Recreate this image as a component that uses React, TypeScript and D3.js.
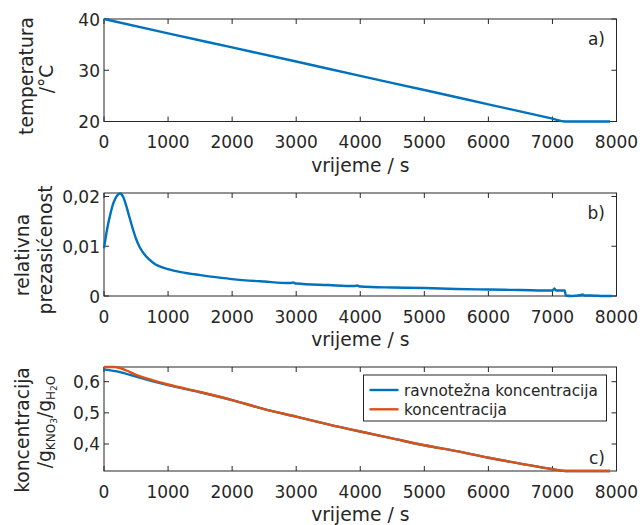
import React, { useEffect, useRef } from 'react';
import * as d3 from 'd3';

// panel a: temperature
const tempTime = [0, 1000, 2000, 3000, 4000, 5000, 6000, 7000, 7200, 7500, 7900];
const tempValue = [40, 37.2, 34.45, 31.7, 28.9, 26.15, 23.35, 20.55, 20, 20, 20];

// panel b: relative supersaturation
const satTime = [0, 50, 100, 150, 200, 250, 300, 350, 400, 450, 500, 550, 600, 700, 800, 900, 1000, 1200, 1500, 1800, 2000, 2500, 2900, 2950, 3000, 3500, 3900, 3950, 4000, 4500, 5000, 5500, 6000, 6500, 7000, 7030, 7060, 7190, 7210, 7300, 7450, 7470, 7500, 7600, 7800, 7930];
const satValue = [0.0096, 0.0135, 0.0165, 0.0188, 0.0201, 0.0206, 0.0199, 0.018, 0.0157, 0.0135, 0.0115, 0.01, 0.0089, 0.0074, 0.0064, 0.0058, 0.0054, 0.0048, 0.0042, 0.0037, 0.0034, 0.0029, 0.0026, 0.0027, 0.0025, 0.0022, 0.002, 0.0021, 0.0019, 0.0017, 0.0016, 0.0014, 0.0013, 0.0012, 0.0011, 0.0015, 0.0011, 0.0011, 0.0001, 0.0, 0.0002, 0.0003, 0.0001, 0.0001, 0.0, 0.0];

// panel c: concentrations
const eqTime = [0, 250, 500, 750, 1000, 1500, 2000, 2500, 3000, 3500, 4000, 4500, 5000, 5500, 6000, 6500, 7000, 7200, 7900];
const eqValue = [0.6396, 0.631, 0.616, 0.602, 0.589, 0.566, 0.541, 0.512, 0.488, 0.463, 0.44, 0.418, 0.396, 0.377, 0.356, 0.337, 0.319, 0.3135, 0.3135];
const concTime = [0, 150, 250, 350, 500, 750, 1000, 1500, 2000, 2500, 3000, 3500, 4000, 4500, 5000, 5500, 6000, 6500, 7000, 7200, 7900];
const concValue = [0.647, 0.647, 0.644, 0.636, 0.622, 0.605, 0.591, 0.567, 0.541, 0.512, 0.488, 0.463, 0.44, 0.418, 0.396, 0.377, 0.356, 0.337, 0.319, 0.3135, 0.3135];

const xTicks = [0, 1000, 2000, 3000, 4000, 5000, 6000, 7000, 8000];
const tempTicks = [20, 30, 40];
const satTicks = [0, 0.01, 0.02];
const concTicks = [0.4, 0.5, 0.6];
const legendLabels = ['ravnotežna koncentracija', 'koncentracija'];

const BLUE = '#0072BD';
const ORANGE = '#D95319';
const INK = '#262626';
const FONT = "'DejaVu Sans', sans-serif";

const App = () => {
  const svgRef = useRef<SVGSVGElement>(null);

  useEffect(() => {
    const svg = d3.select(svgRef.current);
    svg.selectAll('*').remove();

    const left = 104;
    const right = 616.5;
    const x = d3.scaleLinear().domain([0, 8000]).range([left, right]);
    const fmt = (v: number) => String(v).replace('.', ',');

    // Draw one axes box with inward ticks on all sides
    const drawPanel = (top: number, bottom: number, domain: [number, number], yTicks: number[], tag: string, tagY: number) => {
      const y = d3.scaleLinear().domain(domain).range([bottom, top]);
      const g = svg.append('g');

      g.append('rect')
        .attr('x', left).attr('y', top)
        .attr('width', right - left).attr('height', bottom - top)
        .attr('fill', 'none').attr('stroke', INK).attr('stroke-width', 1);

      xTicks.forEach(t => {
        g.append('line').attr('x1', x(t)).attr('x2', x(t)).attr('y1', bottom).attr('y2', bottom - 5).attr('stroke', INK);
        g.append('line').attr('x1', x(t)).attr('x2', x(t)).attr('y1', top).attr('y2', top + 5).attr('stroke', INK);
        g.append('text')
          .attr('x', x(t)).attr('y', bottom + 26.5)
          .attr('text-anchor', 'middle')
          .style('font-family', FONT).style('font-size', '17px').style('fill', INK)
          .text(t);
      });

      yTicks.forEach(v => {
        g.append('line').attr('x1', left).attr('x2', left + 5).attr('y1', y(v)).attr('y2', y(v)).attr('stroke', INK);
        g.append('line').attr('x1', right).attr('x2', right - 5).attr('y1', y(v)).attr('y2', y(v)).attr('stroke', INK);
        g.append('text')
          .attr('x', left - 4).attr('y', y(v) + 6.5)
          .attr('text-anchor', 'end')
          .style('font-family', FONT).style('font-size', '17px').style('fill', INK)
          .text(fmt(v));
      });

      g.append('text')
        .attr('x', (left + right) / 2).attr('y', bottom + 50)
        .attr('text-anchor', 'middle')
        .style('font-family', FONT).style('font-size', '18.7px').style('fill', INK)
        .text('vrijeme / s');

      g.append('text')
        .attr('x', 605).attr('y', tagY)
        .attr('text-anchor', 'end')
        .style('font-family', FONT).style('font-size', '17px').style('fill', INK)
        .text(tag);

      return { g, y };
    };

    const yLabel = (g: any, bx: number, cy: number) =>
      g.append('text')
        .attr('transform', `translate(${bx},${cy}) rotate(-90)`)
        .attr('text-anchor', 'middle')
        .style('font-family', FONT).style('font-size', '18.7px').style('fill', INK);

    const drawLine = (g: any, y: any, ts: number[], vs: number[], color: string) => {
      const line = d3.line<number>()
        .x((_, i) => x(ts[i]))
        .y(d => y(d))
        .curve(d3.curveMonotoneX);
      g.append('path')
        .attr('d', line(vs))
        .attr('fill', 'none')
        .attr('stroke', color)
        .attr('stroke-width', 2.4);
    };

    // a) temperature
    const a = drawPanel(19, 121.5, [20, 40], tempTicks, 'a)', 45);
    drawLine(a.g, a.y, tempTime, tempValue, BLUE);
    yLabel(a.g, 33, 76).text('temperatura');
    yLabel(a.g, 53, 79).text('/°C');

    // b) relative supersaturation
    const b = drawPanel(193, 296, [0, 0.0207], satTicks, 'b)', 219);
    drawLine(b.g, b.y, satTime, satValue, BLUE);
    yLabel(b.g, 29, 255).text('relativna');
    yLabel(b.g, 52, 250).text('prezasićenost');

    // c) concentration
    const c = drawPanel(367, 471, [0.3133, 0.6472], concTicks, 'c)', 464);
    drawLine(c.g, c.y, eqTime, eqValue, BLUE);
    drawLine(c.g, c.y, concTime, concValue, ORANGE);
    yLabel(c.g, 29, 430).text('koncentracija');
    const unit = yLabel(c.g, 51, 422);
    unit.append('tspan').text('/g');
    unit.append('tspan').attr('dy', 4).style('font-size', '12px').text('KNO');
    unit.append('tspan').attr('dy', 2).style('font-size', '9px').text('3');
    unit.append('tspan').attr('dy', -6).text('/g');
    unit.append('tspan').attr('dy', 4).style('font-size', '12px').text('H');
    unit.append('tspan').attr('dy', 2).style('font-size', '9px').text('2');
    unit.append('tspan').attr('dy', -2).style('font-size', '12px').text('O');

    // legend
    const lg = c.g.append('g');
    lg.append('rect')
      .attr('x', 363.5).attr('y', 375)
      .attr('width', 243).attr('height', 46)
      .attr('fill', 'white').attr('stroke', INK).attr('stroke-width', 1);
    [BLUE, ORANGE].forEach((col, i) => {
      const ly = 390 + i * 19.3;
      lg.append('line')
        .attr('x1', 369.5).attr('x2', 398.5).attr('y1', ly).attr('y2', ly)
        .attr('stroke', col).attr('stroke-width', 2.4);
      lg.append('text')
        .attr('x', 404).attr('y', ly + 5.5)
        .style('font-family', FONT).style('font-size', '15.3px').style('fill', INK)
        .text(legendLabels[i]);
    });
  }, []);

  return (
    <svg
      ref={svgRef}
      width={644}
      height={525}
      style={{ position: 'absolute', left: 0, top: 0, background: 'white' }}
    />
  );
};

export default App;
